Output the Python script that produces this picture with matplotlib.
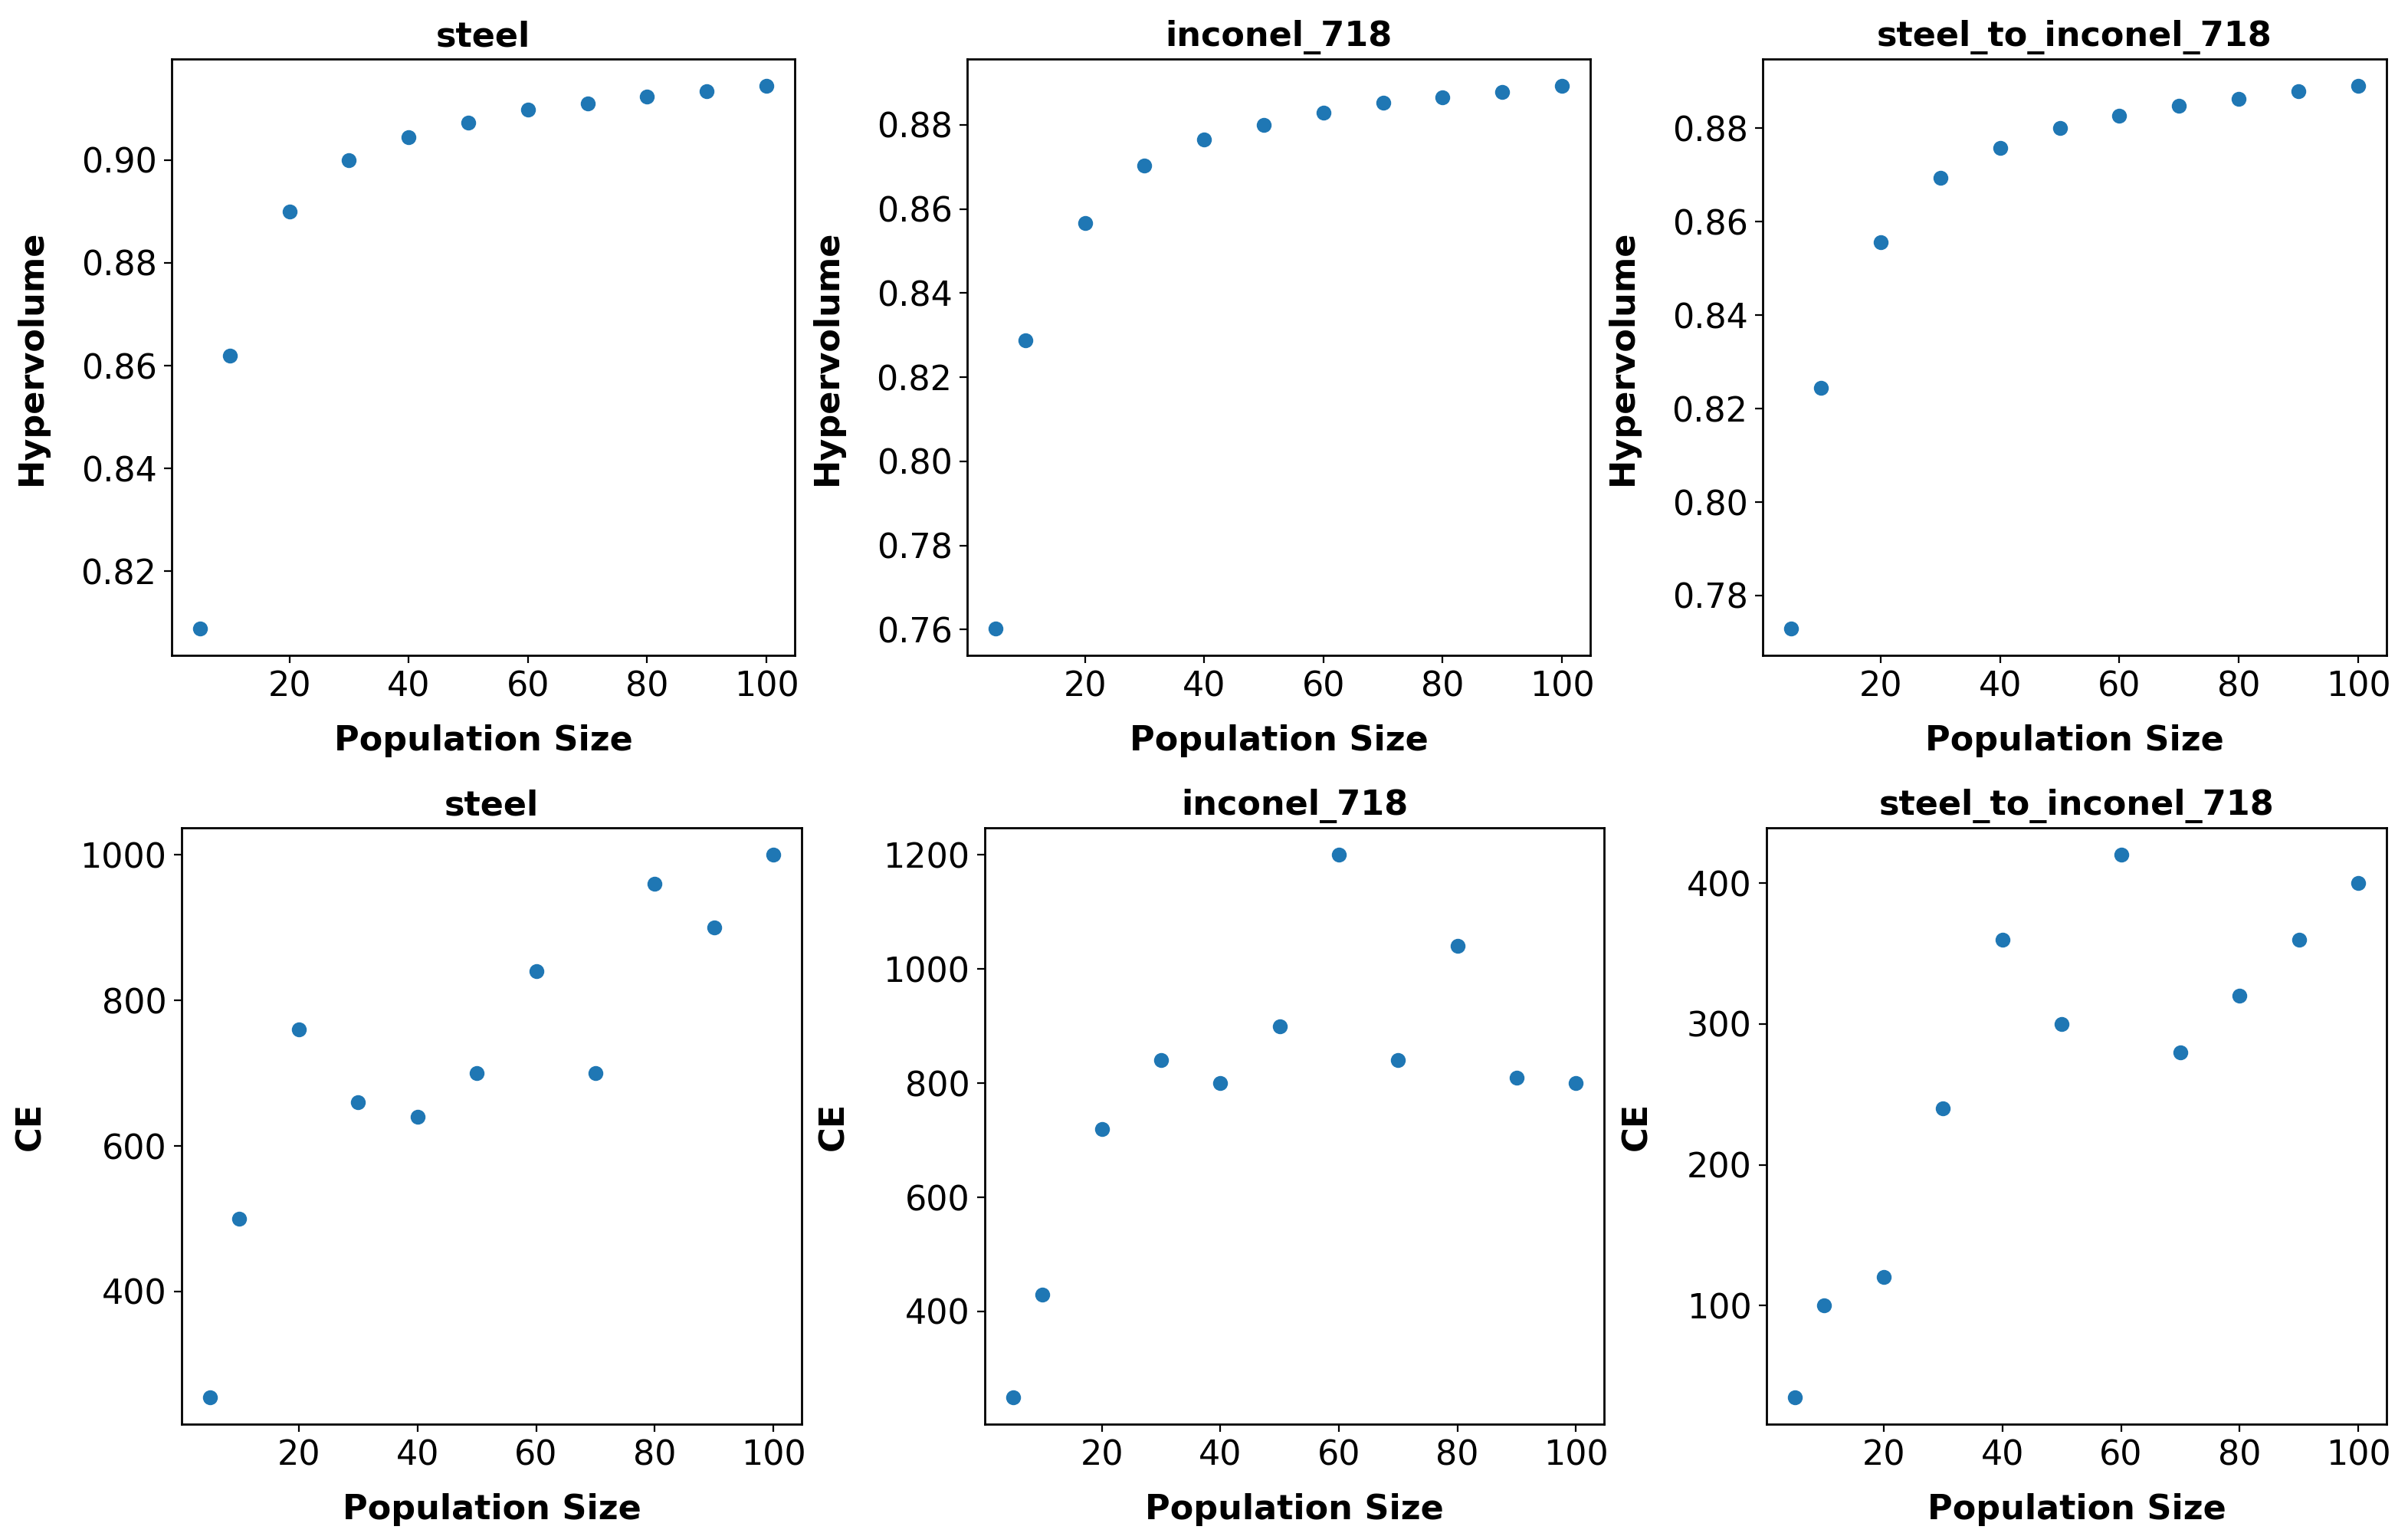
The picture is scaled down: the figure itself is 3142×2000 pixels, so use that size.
import matplotlib
matplotlib.use('Agg')
import matplotlib.pyplot as plt

plt.rcParams.update({
    'font.family': 'DejaVu Sans',
    'font.size': 16,
    'axes.linewidth': 1.0,
})

pop_sizes = [5, 10, 20, 30, 40, 50, 60, 70, 80, 90, 100]
materials = ['steel', 'inconel_718', 'steel_to_inconel_718']

hv_steel = [0.8089, 0.8620, 0.8900, 0.9000, 0.9044, 0.9073, 0.9098, 0.9110, 0.9123, 0.9134, 0.9144]
hv_inconel = [0.7603, 0.8287, 0.8567, 0.8703, 0.8765, 0.8800, 0.8829, 0.8853, 0.8866, 0.8878, 0.8892]
hv_steel_to_inconel = [0.7730, 0.8244, 0.8556, 0.8693, 0.8758, 0.8800, 0.8826, 0.8848, 0.8863, 0.8879, 0.8890]

ce_steel = [255, 500, 760, 660, 640, 700, 840, 700, 960, 900, 1000]
ce_inconel = [250, 430, 720, 840, 800, 900, 1200, 840, 1040, 810, 800]
ce_steel_to_inconel = [35, 100, 120, 240, 360, 300, 420, 280, 320, 360, 400]

hv_all = [hv_steel, hv_inconel, hv_steel_to_inconel]
ce_all = [ce_steel, ce_inconel, ce_steel_to_inconel]

W, H = 3142, 2000
fig = plt.figure(figsize=(W / 200, H / 200), dpi=200)


def rect(x0, x1, y0, y1):
    # pixel box (left, right, top, bottom) -> figure fraction
    return [x0 / W, 1 - y1 / H, (x1 - x0) / W, (y1 - y0) / H]


top_boxes = [(224, 1037), (1262, 2075), (2300, 3114)]
bot_boxes = [(237, 1046), (1285, 2093), (2305, 3114)]

for i, name in enumerate(materials):
    ax = fig.add_axes(rect(*top_boxes[i], 77, 855))
    ax.scatter(pop_sizes, hv_all[i], color='#1f77b4')
    ax.set_xticks([20, 40, 60, 80, 100])
    ax.set_title(name, fontweight='bold', fontsize=16)
    ax.set_xlabel('Population Size', fontweight='bold', labelpad=10)
    ax.set_ylabel('Hypervolume', fontweight='bold', labelpad=15.5)

    ax = fig.add_axes(rect(*bot_boxes[i], 1080, 1858))
    ax.scatter(pop_sizes, ce_all[i], color='#1f77b4')
    ax.set_xticks([20, 40, 60, 80, 100])
    ax.set_title(name, fontweight='bold', fontsize=16)
    ax.set_xlabel('Population Size', fontweight='bold', labelpad=10)
    ax.set_ylabel('CE', fontweight='bold', labelpad=15.5)

plt.savefig('out.png', dpi=200)
